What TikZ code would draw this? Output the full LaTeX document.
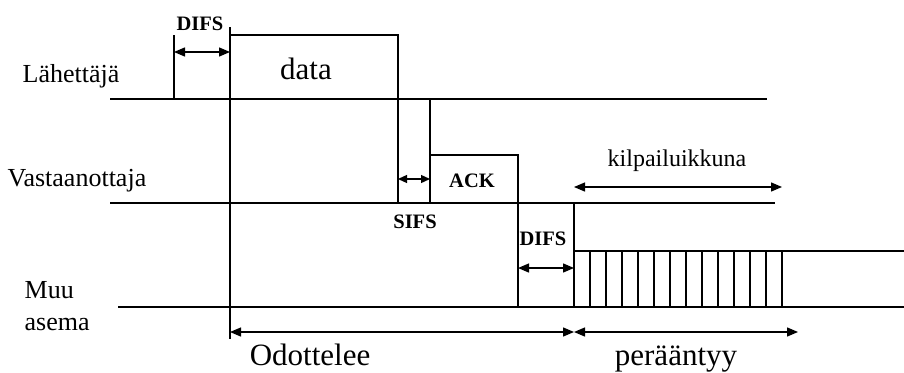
\documentclass[tikz,border=0pt]{standalone}
\usepackage{fontspec}
\setmainfont{Liberation Serif}
\usetikzlibrary{arrows.meta}
\begin{document}
\begin{tikzpicture}[x=1pt,y=-1pt,line width=1.3pt,
  dim/.style={{Triangle[length=11pt,width=9pt]}-{Triangle[length=11pt,width=9pt]}},
  dimsmall/.style={{Triangle[length=9pt,width=8pt]}-{Triangle[length=9pt,width=8pt]}},
  station/.style={font=\fontsize{26}{28}\selectfont,inner sep=0pt,anchor=base west},
  biglabel/.style={font=\fontsize{31}{33}\selectfont,inner sep=0pt,anchor=base},
  boldlabel/.style={font=\fontsize{20.5}{22}\selectfont\bfseries,inner sep=0pt,anchor=base},
  smalllabel/.style={font=\fontsize{24}{26}\selectfont,inner sep=0pt,anchor=base}]
\useasboundingbox (0,0) rectangle (904,372);
% coordinates
\coordinate (sL) at (110,99);  \coordinate (sR) at (767,99);
\coordinate (rL) at (110,203); \coordinate (rR) at (775,203);
\coordinate (oL) at (118,307); \coordinate (oR) at (904,307);
% station labels
\node[station] (lah) at (22,82) {Lähettäjä};
\node[station] (vas) at (7,186) {Vastaanottaja};
\node[station] (muu) at (24,298) {Muu};
\node[station] (ase) at (24,330) {asema};
% baselines
\draw (sL) -- (sR);
\draw (rL) -- (rR);
\draw (oL) -- (oR);
% sender DIFS + data
\coordinate (d1b) at (174,99); \coordinate (d1t) at (174,35);
\draw (d1b) -- (d1t);
\coordinate (t0top) at (230,27); \coordinate (t0bot) at (230,339);
\draw (t0top) -- (t0bot);
\coordinate (dtl) at (230,35); \coordinate (dtr) at (398,35); \coordinate (dbr) at (398,203);
\draw (dtl) -- (dtr) -- (dbr);
\node[biglabel] (data) at (306,79) {data};
\coordinate (a1l) at (174,52); \coordinate (a1r) at (230,52);
\draw[dim] (a1l) -- (a1r);
\node[boldlabel] (difs1) at (200,30) {DIFS};
% receiver SIFS + ACK
\coordinate (s1t) at (430,99); \coordinate (s1b) at (430,203);
\draw (s1t) -- (s1b);
\coordinate (atl) at (430,155); \coordinate (atr) at (518,155); \coordinate (abr) at (518,307);
\draw (atl) -- (atr) -- (abr);
\coordinate (a2l) at (398,179); \coordinate (a2r) at (430,179);
\draw[dimsmall] (a2l) -- (a2r);
\node[boldlabel] (sifs) at (415,228) {SIFS};
\node[boldlabel] (ack) at (472,187) {ACK};
% other station DIFS + backoff
\coordinate (b0t) at (574,203); \coordinate (b0b) at (574,307);
\draw (b0t) -- (b0b);
\coordinate (btl) at (574,251); \coordinate (btr) at (904,251);
\draw (btl) -- (btr);
\foreach \i in {1,...,13} {
  \draw (574+16*\i,251) -- (574+16*\i,307);
}
\coordinate (a3l) at (518,268); \coordinate (a3r) at (574,268);
\draw[dim] (a3l) -- (a3r);
\node[boldlabel] (difs2) at (543,245) {DIFS};
% contention window
\coordinate (kl) at (574,187); \coordinate (kr) at (782,187);
\draw[dim] (kl) -- (kr);
\node[smalllabel] (kilp) at (677,166) {kilpailuikkuna};
% bottom
\coordinate (w1) at (230,332); \coordinate (w2) at (574,332); \coordinate (w3) at (798,332);
\draw[dim] (w1) -- (w2);
\draw[dim] (w2) -- (w3);
\node[biglabel] (odo) at (310,365) {Odottelee};
\node[biglabel] (per) at (676,365) {perääntyy};
\end{tikzpicture}
\end{document}
